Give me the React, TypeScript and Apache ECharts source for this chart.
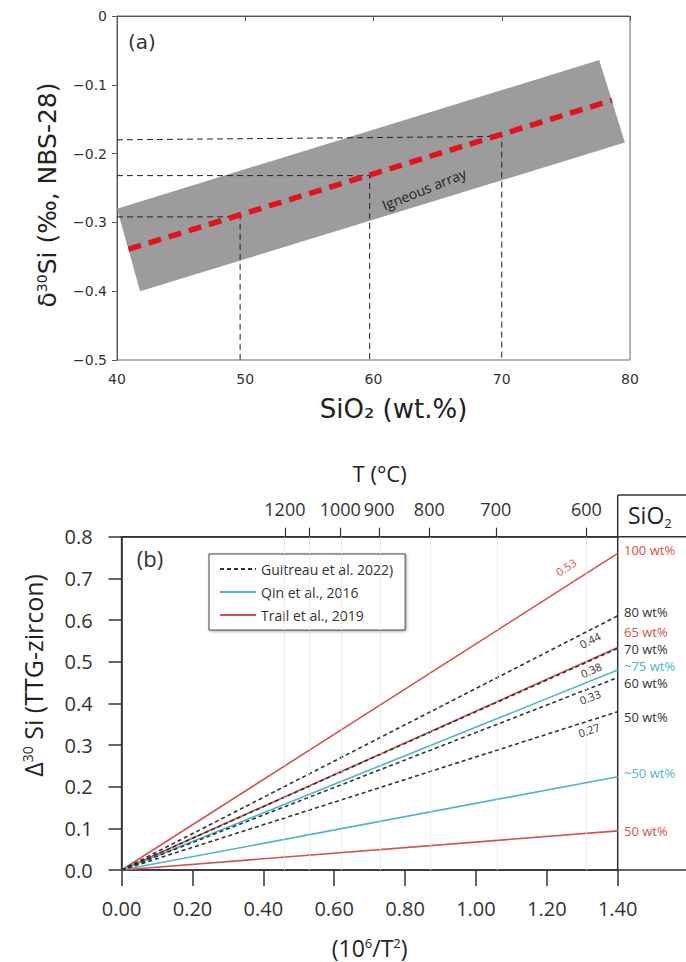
import React, { useEffect, useRef } from "react";
import * as echarts from "echarts";

// ---------- Panel (a) data ----------
const sio2Range = [40, 80];
const delta30Range = [-0.5, 0];
const igneousBand = [
  [40, -0.28],
  [41.8, -0.4],
  [79.6, -0.184],
  [77.6, -0.064],
];
const igneousTrend = [
  [40.9, -0.339],
  [78.6, -0.1225],
];
const guide50 = [
  [40, -0.292],
  [49.6, -0.292],
  [49.6, -0.5],
];
const guide60 = [
  [40, -0.232],
  [59.7, -0.232],
  [59.7, -0.5],
];
const guide70 = [
  [40, -0.18],
  [70, -0.175],
  [70, -0.5],
];

// ---------- Panel (b) data ----------
const invT2Max = 1.4;
const tempTicksC = [1200, 1100, 1000, 900, 800, 700, 600];
const tempLabelsC = [1200, 1000, 900, 800, 700, 600];
const SRC_G = "Guitreau et al. 2022)";
const SRC_Q = "Qin et al., 2016";
const SRC_T = "Trail et al., 2019";
const legendNames = [SRC_G, SRC_Q, SRC_T];

// end value of Δ30Si at 10^6/T^2 = 1.40, each line starts at origin
const trailSio2 = ["100 wt%", "65 wt%", "50 wt%"];
const trailEnd = [0.76, 0.534, 0.094];
const guitreauSio2 = ["80 wt%", "70 wt%", "60 wt%", "50 wt%"];
const guitreauEnd = [0.61, 0.532, 0.462, 0.38];
const guitreauSlope = ["0.44", "0.38", "0.33", "0.27"];
const trailSlope = ["0.53", "", ""];
const qinSio2 = ["~75 wt%", "~50 wt%"];
const qinEnd = [0.48, 0.224];

// ---------- Styles / layout ----------
const RED = "#d4534d";
const BLUE = "#4db7c7";
const DARK = "#333333";
const SANS_A = "DejaVu Sans, Liberation Sans, sans-serif";
const SANS_B = "Open Sans, Noto Sans, sans-serif";

const toInvT2 = (c: number) => 1e6 / Math.pow(c + 273.15, 2);
// zrender rotation: positive = counter-clockwise (text rising to the right)
const rise = (d: number) => (d * Math.PI) / 180;

// pixel layout of annotation texts (not data)
const rightLabelLayout: { text: string; color: string; y: number }[] = [
  { text: trailSio2[0], color: RED, y: 550 },
  { text: guitreauSio2[0], color: DARK, y: 612 },
  { text: trailSio2[1], color: RED, y: 632 },
  { text: guitreauSio2[1], color: DARK, y: 649 },
  { text: qinSio2[0], color: BLUE, y: 666 },
  { text: guitreauSio2[2], color: DARK, y: 683 },
  { text: guitreauSio2[3], color: DARK, y: 717 },
  { text: qinSio2[1], color: BLUE, y: 773 },
  { text: trailSio2[2], color: RED, y: 831 },
];
const slopeLabelLayout: { text: string; color: string; x: number; y: number; deg: number }[] = [
  { text: trailSlope[0], color: RED, x: 566, y: 567, deg: 33 },
  { text: guitreauSlope[0], color: DARK, x: 590, y: 640, deg: 27 },
  { text: guitreauSlope[1], color: DARK, x: 591, y: 670, deg: 24 },
  { text: guitreauSlope[2], color: DARK, x: 590, y: 697, deg: 21 },
  { text: guitreauSlope[3], color: DARK, x: 589, y: 730, deg: 18 },
];

const G1 = { left: 121.6, top: 536.7, width: 496.1, height: 333.3 };
const G0 = { left: 117, top: 16, width: 513, height: 344 };

export default function App() {
  const ref = useRef<HTMLDivElement>(null);
  useEffect(() => {
    if (!ref.current) return;
    const chart = echarts.init(ref.current, undefined, { renderer: "svg" });

    const lineSeries: any[] = [];
    const mk = (name: string, end: number, color: string, dashed: boolean, z: number) => ({
      type: "line",
      name,
      xAxisIndex: 1,
      yAxisIndex: 1,
      data: [
        [0, 0],
        [invT2Max, end],
      ],
      symbol: "none",
      silent: true,
      z,
      lineStyle: { color, width: 1.6, type: dashed ? [4, 3] : "solid" },
      itemStyle: { color },
    });
    trailEnd.forEach((e) => lineSeries.push(mk(SRC_T, e, RED, false, 3)));
    qinEnd.forEach((e) => lineSeries.push(mk(SRC_Q, e, BLUE, false, 3)));
    guitreauEnd.forEach((e) => lineSeries.push(mk(SRC_G, e, DARK, true, 4)));

    const guideSeries = [guide50, guide60, guide70].map((g) => ({
      type: "line",
      xAxisIndex: 0,
      yAxisIndex: 0,
      data: g,
      symbol: "none",
      silent: true,
      z: 4,
      lineStyle: { color: "#222", width: 1, type: [6, 4] },
    }));

    const graphics: any[] = [
      {
        type: "text",
        x: 142,
        y: 42,
        style: { text: "(a)", fontSize: 20, fontFamily: SANS_A, fill: "#333", align: "center", verticalAlign: "middle" },
      },
      {
        type: "text",
        x: 424,
        y: 189,
        rotation: rise(22),
        style: { text: "Igneous array", fontSize: 14, fontFamily: SANS_B, fill: "#222", align: "center", verticalAlign: "middle" },
        z: 10,
      },
      {
        type: "text",
        x: 150,
        y: 558,
        style: { text: "(b)", fontSize: 22, fontFamily: SANS_B, fill: "#333", align: "center", verticalAlign: "middle" },
      },
      {
        type: "text",
        x: 628,
        y: 515,
        style: {
          text: "SiO{sub|2}",
          fontSize: 23,
          fontFamily: SANS_B,
          fill: "#222",
          align: "left",
          verticalAlign: "middle",
          rich: { sub: { fontSize: 13, fontFamily: SANS_B, fill: "#222", padding: [16, 0, 0, 0] } },
        },
      },
      { type: "line", shape: { x1: 617.7, y1: 495, x2: 686, y2: 495 }, style: { stroke: DARK, lineWidth: 1.5 } },
      { type: "line", shape: { x1: 617.7, y1: 495, x2: 617.7, y2: 537 }, style: { stroke: DARK, lineWidth: 1.5 } },
      { type: "line", shape: { x1: 617.7, y1: 536.7, x2: 686, y2: 536.7 }, style: { stroke: DARK, lineWidth: 1.5 } },
      { type: "line", shape: { x1: 617.7, y1: 870, x2: 686, y2: 870 }, style: { stroke: DARK, lineWidth: 1.5 } },
      ...rightLabelLayout.map((l) => ({
        type: "text",
        x: 624,
        y: l.y,
        style: {
          text: l.text,
          fontSize: 13,
          lineHeight: 13,
          fontFamily: SANS_B,
          fill: l.color,
          align: "left",
          verticalAlign: "middle",
        },
      })),
      ...slopeLabelLayout.map((l) => ({
        type: "text",
        x: l.x,
        y: l.y,
        rotation: rise(l.deg),
        style: { text: l.text, fontSize: 11, fontFamily: SANS_B, fill: l.color, align: "center", verticalAlign: "middle" },
        z: 10,
      })),
    ];

    chart.setOption({
      animation: false,
      textStyle: { fontFamily: SANS_B },
      grid: [
        { ...G0, show: true, borderColor: "#666", borderWidth: 1, backgroundColor: "transparent" },
        { ...G1, show: true, borderColor: DARK, borderWidth: 1.5, backgroundColor: "transparent" },
      ],
      legend: {
        data: legendNames,
        orient: "vertical",
        left: 209,
        top: 554,
        itemWidth: 36,
        itemHeight: 12,
        itemGap: 9,
        padding: [8, 12, 8, 10],
        borderColor: "#444",
        borderWidth: 1,
        backgroundColor: "#fff",
        shadowBlur: 3,
        shadowColor: "rgba(0,0,0,0.35)",
        shadowOffsetX: 1,
        shadowOffsetY: 1,
        itemStyle: { opacity: 0 },
        textStyle: { fontSize: 14, fontFamily: SANS_B, color: "#333" },
        selectedMode: false,
      },
      xAxis: [
        {
          gridIndex: 0,
          type: "value",
          min: sio2Range[0],
          max: sio2Range[1],
          interval: 10,
          axisLine: { show: true, lineStyle: { color: "#555", width: 1 } },
          axisTick: { show: true, length: 5, lineStyle: { color: "#555" } },
          axisLabel: { fontSize: 14, color: "#333", margin: 12, fontFamily: SANS_A },
          splitLine: { show: false },
          name: "SiO₂ (wt.%)",
          nameLocation: "middle",
          nameGap: 36,
          nameTextStyle: { fontSize: 26, color: "#222", fontFamily: SANS_A, padding: [0, 0, 0, 40] },
        },
        {
          gridIndex: 1,
          type: "value",
          min: 0,
          max: invT2Max,
          interval: 0.2,
          axisLine: { show: true, lineStyle: { color: DARK, width: 1.5 } },
          axisTick: { show: true, length: 16, lineStyle: { color: DARK, width: 1.5 } },
          axisLabel: { fontSize: 20, color: "#333", margin: 28, formatter: (v: number) => v.toFixed(2) },
          splitLine: { show: false },
          name: "(10{sup|6}/T{sup|2})",
          nameLocation: "middle",
          nameGap: 66,
          nameTextStyle: {
            fontSize: 23,
            color: "#222",
            rich: { sup: { fontSize: 13, color: "#222", padding: [0, 0, 10, 0] } },
          },
        },
        {
          gridIndex: 1,
          type: "value",
          position: "top",
          min: 0,
          max: invT2Max,
          axisLine: { show: true, lineStyle: { color: DARK, width: 1.5 } },
          axisTick: { show: true, length: 9, customValues: tempTicksC.map(toInvT2), lineStyle: { color: DARK, width: 1.2 } },
          axisLabel: {
            fontSize: 18,
            color: "#333",
            margin: 19,
            customValues: tempLabelsC.map(toInvT2),
            formatter: (v: number) => String(Math.round(Math.sqrt(1e6 / v) - 273.15)),
          },
          splitLine: { show: false },
          name: "T (°C)",
          nameLocation: "middle",
          nameGap: 53,
          nameTextStyle: { fontSize: 22, color: "#222", padding: [0, 0, 0, 20] },
        },
      ],
      yAxis: [
        {
          gridIndex: 0,
          type: "value",
          min: delta30Range[0],
          max: delta30Range[1],
          interval: 0.1,
          axisLine: { show: true, lineStyle: { color: "#555", width: 1 } },
          axisTick: { show: true, length: 5, lineStyle: { color: "#555" } },
          axisLabel: {
            fontSize: 14,
            color: "#333",
            margin: 10,
            fontFamily: SANS_A,
            formatter: (v: number) => (Math.abs(v) < 1e-9 ? "0" : "\u2212" + Math.abs(v).toFixed(1)),
          },
          splitLine: { show: false },
          name: "δ{sup|30}Si (‰, NBS-28)",
          nameLocation: "middle",
          nameRotate: 90,
          nameGap: 57,
          nameTextStyle: {
            fontSize: 25,
            color: "#222",
            fontFamily: SANS_A,
            padding: [0, 14, 0, 0],
            rich: { sup: { fontSize: 14, color: "#222", fontFamily: SANS_A, padding: [0, 0, 11, 0] } },
          },
        },
        {
          gridIndex: 1,
          type: "value",
          min: 0,
          max: 0.8,
          interval: 0.1,
          axisLine: { show: true, lineStyle: { color: DARK, width: 1.5 } },
          axisTick: { show: true, length: 13, lineStyle: { color: DARK, width: 1.5 } },
          axisLabel: { fontSize: 20, color: "#333", margin: 29, formatter: (v: number) => v.toFixed(1) },
          splitLine: { show: false },
          name: "Δ{sup|30} Si (TTG-zircon)",
          nameLocation: "middle",
          nameRotate: 90,
          nameGap: 76,
          nameTextStyle: {
            fontSize: 25,
            color: "#222",
            padding: [0, 0, 0, 56],
            rich: { sup: { fontSize: 14, color: "#222", padding: [0, 0, 11, 0] } },
          },
        },
      ],
      series: [
        {
          type: "custom",
          xAxisIndex: 0,
          yAxisIndex: 0,
          silent: true,
          z: 1,
          data: [igneousBand[0]],
          renderItem: (_p: any, api: any) => ({
            type: "polygon",
            shape: { points: igneousBand.map((pt) => api.coord(pt)) },
            style: { fill: "#9c9c9c" },
          }),
        },
        ...guideSeries,
        {
          type: "line",
          xAxisIndex: 0,
          yAxisIndex: 0,
          data: igneousTrend,
          symbol: "none",
          silent: true,
          z: 5,
          lineStyle: { color: "#e3121c", width: 5.5, type: [13, 8] },
        },
        {
          type: "line",
          xAxisIndex: 2,
          yAxisIndex: 1,
          data: [],
          symbol: "none",
          silent: true,
          z: 1,
          markLine: {
            silent: true,
            symbol: ["none", "none"],
            label: { show: false },
            lineStyle: { color: "#dcdcdc", type: "dotted", width: 1 },
            data: tempTicksC.map((c) => ({ xAxis: toInvT2(c) })),
          },
        },
        ...lineSeries,
      ],
      graphic: graphics,
    });
    return () => chart.dispose();
  }, []);
  return <div ref={ref} style={{ position: "absolute", left: 0, top: 0, width: 686, height: 962 }} />;
}
